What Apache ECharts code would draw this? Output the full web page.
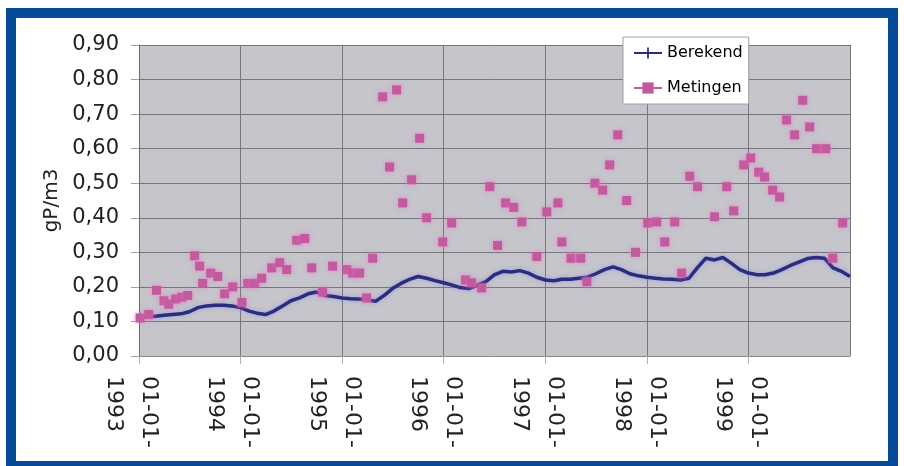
<!DOCTYPE html>
<html>
<head>
<meta charset="utf-8">
<script src="https://cdn.jsdelivr.net/npm/echarts@6/dist/echarts.min.js"></script>
<style>
html,body{margin:0;padding:0;background:#fff;}
#chart{width:904px;height:466px;}
</style>
</head>
<body>
<div id="chart"></div>
<script>
// ---- Data ----
var seriesNames = ['Berekend', 'Metingen'];
var yAxisName = 'gP/m3';
var yTicks = [0, 0.1, 0.2, 0.3, 0.4, 0.5, 0.6, 0.7, 0.8, 0.9];

// Berekend: monthly values, first of each month
var berekend1993 = [0.112, 0.115, 0.115, 0.118, 0.120, 0.122, 0.128, 0.140, 0.145, 0.147, 0.147, 0.145];
var berekend1994 = [0.140, 0.130, 0.124, 0.120, 0.130, 0.145, 0.160, 0.168, 0.180, 0.185, 0.175, 0.172];
var berekend1995 = [0.168, 0.166, 0.165, 0.163, 0.158, 0.175, 0.195, 0.210, 0.222, 0.230, 0.225, 0.218];
var berekend1996 = [0.212, 0.205, 0.198, 0.195, 0.205, 0.215, 0.235, 0.245, 0.243, 0.247, 0.240, 0.228];
var berekend1997 = [0.220, 0.218, 0.222, 0.222, 0.225, 0.228, 0.238, 0.250, 0.258, 0.250, 0.238, 0.232];
var berekend1998 = [0.228, 0.225, 0.223, 0.222, 0.220, 0.225, 0.255, 0.283, 0.278, 0.285, 0.268, 0.250];
var berekend1999 = [0.240, 0.235, 0.235, 0.240, 0.250, 0.262, 0.272, 0.282, 0.285, 0.283, 0.255, 0.245];
var berekend2000 = [0.230];

// Metingen: measurement dates and values
var metingenDates = [
  '1993-01-05','1993-02-05','1993-03-05','1993-04-01','1993-04-18','1993-05-13','1993-06-04','1993-06-25',
  '1993-07-20','1993-08-07','1993-08-18','1993-09-16','1993-10-11','1993-11-05','1993-12-04','1994-01-06',
  '1994-01-27','1994-02-21','1994-03-18','1994-04-23','1994-05-22','1994-06-16','1994-07-22','1994-08-20',
  '1994-09-14','1994-10-23','1994-11-28','1995-01-18','1995-02-08','1995-03-05','1995-03-30','1995-04-21',
  '1995-05-27','1995-06-21','1995-07-16','1995-08-07','1995-09-08','1995-10-07','1995-11-01','1995-12-29',
  '1996-01-30','1996-03-20','1996-04-11','1996-05-17','1996-06-15','1996-07-13','1996-08-11','1996-09-09',
  '1996-10-08','1996-12-01','1997-01-06','1997-02-15','1997-03-01','1997-04-03','1997-05-08','1997-05-30',
  '1997-06-28','1997-07-26','1997-08-20','1997-09-18','1997-10-20','1997-11-21','1998-01-04','1998-02-05',
  '1998-03-06','1998-04-11','1998-05-06','1998-06-04','1998-07-02','1998-09-01','1998-10-15','1998-11-09',
  '1998-12-15','1999-01-09','1999-02-07','1999-02-28','1999-03-29','1999-04-23','1999-05-18','1999-06-16',
  '1999-07-15','1999-08-09','1999-09-03','1999-10-06','1999-10-31','1999-12-06'
];
var metingenValues = [
  0.11, 0.12, 0.19, 0.16, 0.15, 0.165, 0.17, 0.175,
  0.29, 0.26, 0.21, 0.24, 0.23, 0.18, 0.20, 0.155,
  0.21, 0.21, 0.225, 0.255, 0.27, 0.25, 0.335, 0.34,
  0.255, 0.185, 0.26, 0.25, 0.24, 0.24, 0.168, 0.283,
  0.75, 0.547, 0.77, 0.443, 0.51, 0.63, 0.40, 0.33,
  0.385, 0.22, 0.212, 0.197, 0.49, 0.32, 0.443, 0.43,
  0.388, 0.288, 0.417, 0.443, 0.33, 0.283, 0.283, 0.215,
  0.50, 0.48, 0.553, 0.64, 0.45, 0.30, 0.385, 0.388,
  0.33, 0.388, 0.24, 0.52, 0.49, 0.403, 0.49, 0.42,
  0.553, 0.573, 0.532, 0.518, 0.48, 0.46, 0.683, 0.64,
  0.74, 0.663, 0.60, 0.60, 0.283, 0.385
];

// ---- Build series data ----
var berekendByYear = [
  [1993, berekend1993], [1994, berekend1994], [1995, berekend1995], [1996, berekend1996],
  [1997, berekend1997], [1998, berekend1998], [1999, berekend1999], [2000, berekend2000]
];
var berekendData = [];
berekendByYear.forEach(function (yv) {
  yv[1].forEach(function (v, i) {
    berekendData.push([new Date(yv[0], i, 1).getTime(), v]);
  });
});
var metingenData = metingenDates.map(function (d, i) {
  var p = d.split('-');
  return [new Date(+p[0], +p[1] - 1, +p[2]).getTime(), metingenValues[i]];
});

var FONT = 'DejaVu Sans';
var chart = echarts.init(document.getElementById('chart'), null, {renderer: 'canvas'});
chart.setOption({
  backgroundColor: '#ffffff',
  animation: false,
  graphic: [{
    type: 'rect',
    silent: true,
    z: 100,
    shape: {x: 11, y: 13, width: 882, height: 453},
    style: {fill: 'none', stroke: '#064b97', lineWidth: 10}
  }],
  grid: {
    left: 139, right: 54, top: 45, bottom: 110,
    show: true, backgroundColor: '#c5c5cb', borderWidth: 0
  },
  legend: {
    orient: 'vertical',
    left: 623, top: 37,
    padding: [8, 6, 8, 10],
    backgroundColor: '#ffffff',
    borderColor: '#a0a0a0', borderWidth: 1,
    itemWidth: 28, itemHeight: 14, itemGap: 19,
    textStyle: {fontFamily: FONT, fontSize: 16, color: '#000'},
    data: [
      {name: seriesNames[0]},
      {name: seriesNames[1], lineStyle: {opacity: 1, width: 2, color: '#c45a9e'}}
    ]
  },
  xAxis: {
    type: 'time',
    min: new Date(1993, 0, 1).getTime(),
    max: new Date(2000, 0, 1).getTime(),
    splitNumber: 7,
    axisLine: {show: true, lineStyle: {color: '#8a8a8a', width: 1}},
    axisTick: {show: true, length: 8, lineStyle: {color: '#b0b0b0'}},
    splitLine: {show: true, lineStyle: {color: '#76767c', width: 1}},
    axisLabel: {
      rotate: -90,
      margin: 20,
      fontFamily: FONT, fontSize: 22, color: '#222',
      lineHeight: 35,
      padding: [16, 0, 0, 0],
      hideOverlap: false,
      formatter: function (val) {
        var d = new Date(val);
        var dd = ('0' + d.getDate()).slice(-2);
        var mm = ('0' + (d.getMonth() + 1)).slice(-2);
        return dd + '-' + mm + '-\n' + d.getFullYear();
      }
    }
  },
  yAxis: {
    type: 'value',
    min: yTicks[0], max: yTicks[yTicks.length - 1], interval: 0.1,
    name: yAxisName,
    nameLocation: 'middle',
    nameGap: 64,
    nameTextStyle: {fontFamily: FONT, fontSize: 20, color: '#222'},
    axisLine: {show: true, lineStyle: {color: '#6a6a6a', width: 1}},
    axisTick: {show: true, length: 8, lineStyle: {color: '#a0a0a0'}},
    splitLine: {show: true, lineStyle: {color: '#76767c', width: 1}},
    axisLabel: {
      margin: 20,
      fontFamily: FONT, fontSize: 21, color: '#222',
      formatter: function (v) { return v.toFixed(2).replace('.', ','); }
    }
  },
  series: [
    {
      name: seriesNames[0],
      type: 'line',
      data: berekendData,
      showSymbol: false,
      symbol: 'path://M0,4.2h10v1.6h-10z M4.2,0h1.6v10h-1.6z',
      symbolSize: 9,
      itemStyle: {color: '#2a2c7c'},
      lineStyle: {color: '#2a2c7c', width: 3.5, shadowBlur: 4, shadowColor: 'rgba(140,140,230,0.7)'},
      z: 3
    },
    {
      name: seriesNames[1],
      type: 'line',
      data: metingenData,
      symbol: 'rect',
      symbolSize: 9,
      itemStyle: {color: '#c45a9e', shadowBlur: 5, shadowColor: 'rgba(235,120,205,0.8)'},
      lineStyle: {opacity: 0, width: 0},
      z: 4
    }
  ]
});
</script>
</body>
</html>
